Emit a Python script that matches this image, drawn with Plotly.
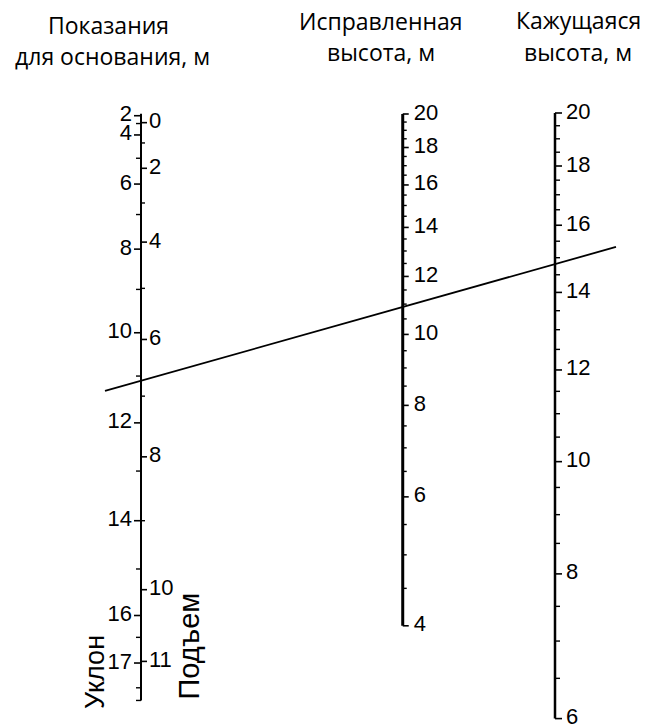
import math
import plotly.graph_objects as go

# ---------------- data ----------------
# Left scale, left side: "Уклон" readings and the correction factor (corrected / apparent height)
UKLON_LABELS = [2, 4, 6, 8, 10, 12, 14, 16, 17]
UKLON_FACTOR = [1.000, 0.978, 0.924, 0.857, 0.778, 0.701, 0.626, 0.561, 0.531]
UKLON_MINOR = [3, 5, 7, 9, 11, 13, 15, 16.5, 17.5, 17.75]
UKLON_MINOR_FACTOR = [0.991, 0.952, 0.892, 0.818, 0.740, 0.663, 0.592, 0.547, 0.516, 0.5085]

# Left scale, right side: "Подъем" readings and their correction factors
PODEM_LABELS = [0, 2, 4, 6, 8, 10, 11]
PODEM_FACTOR = [0.992, 0.941, 0.864, 0.772, 0.674, 0.578, 0.532]
PODEM_MINOR = [1, 3, 5, 7, 9]
PODEM_MINOR_FACTOR = [0.969, 0.904, 0.819, 0.723, 0.626]

# Middle scale: corrected height, m (logarithmic)
CORR_LABELS = [4, 6, 8, 10, 12, 14, 16, 18, 20]
CORR_MINOR = [4.5, 5, 5.5, 6.5, 7, 7.5, 8.5, 9, 9.5, 10.5, 11, 11.5, 12.5, 13, 13.5,
              14.5, 15, 15.5, 16.5, 17, 17.5, 18.5, 19, 19.5]

# Right scale: apparent height, m (logarithmic)
APP_LABELS = [6, 8, 10, 12, 14, 16, 18, 20]
APP_MINOR = [6.5, 7, 7.5, 8.5, 9, 9.5, 10.5, 11, 11.5, 12.5, 13, 13.5,
             14.5, 15, 15.5, 16.5, 17, 17.5, 18.5, 19, 19.5]

# Example isopleth
ISO_APPARENT = 14.81
ISO_CORRECTED = 10.90

# ---------------- nomogram geometry ----------------
W, H = 646, 724
PX_PER_LN_MID = 318.0
PX_PER_LN_RIGHT = 503.0
K = PX_PER_LN_RIGHT / PX_PER_LN_MID
T = 1.0 / K
LN20 = math.log(20)
D = 1.0 / PX_PER_LN_MID
C = LN20 * (1 - K) + D

XL, XR = 141.0, 555.0
XM = XL + T * (XR - XL)


def y_mid(v):
    return math.log(v)


def y_right(v):
    return LN20 + K * (math.log(v) - LN20) + D


def y_left(g):
    return (math.log(g) - T * C) / (1 - T)


Y_TOP = LN20 + 114 / PX_PER_LN_MID
Y_BOT = LN20 - (H - 114) / PX_PER_LN_MID


def px_to_paper(p):
    return 1 - p / H


fig = go.Figure()


def segments(x0, dx, ys):
    xs, yy = [], []
    for y in ys:
        xs += [x0, x0 + dx, None]
        yy += [y, y, None]
    return xs, yy


def add_lines(xs, ys, width):
    fig.add_trace(go.Scatter(x=xs, y=ys, mode="lines",
                             line=dict(color="black", width=width),
                             hoverinfo="skip", showlegend=False))


# axis lines
left_ys = [y_left(g) for g in UKLON_FACTOR + UKLON_MINOR_FACTOR + PODEM_FACTOR + PODEM_MINOR_FACTOR]
add_lines([XL, XL], [max(left_ys) + 0.006, min(left_ys)], 2)
add_lines([XM, XM], [y_mid(max(CORR_LABELS)), y_mid(min(CORR_LABELS))], 3)
add_lines([XR, XR], [y_right(max(APP_LABELS)), y_right(min(APP_LABELS))], 2.5)

# ticks
xs, ys = segments(XL, -7, [y_left(g) for g in UKLON_FACTOR]); add_lines(xs, ys, 1.6)
xs, ys = segments(XL, -5, [y_left(g) for g in UKLON_MINOR_FACTOR]); add_lines(xs, ys, 1.4)
xs, ys = segments(XL, 6, [y_left(g) for g in PODEM_FACTOR]); add_lines(xs, ys, 1.6)
xs, ys = segments(XL, 4, [y_left(g) for g in PODEM_MINOR_FACTOR]); add_lines(xs, ys, 1.4)
xs, ys = segments(XM, 6, [y_mid(v) for v in CORR_LABELS]); add_lines(xs, ys, 1.6)
xs, ys = segments(XM, 4, [y_mid(v) for v in CORR_MINOR]); add_lines(xs, ys, 1.4)
xs, ys = segments(XR, 7, [y_right(v) for v in APP_LABELS]); add_lines(xs, ys, 1.6)
xs, ys = segments(XR, 5, [y_right(v) for v in APP_MINOR]); add_lines(xs, ys, 1.4)

# isopleth
ya = y_mid(ISO_CORRECTED)
yb = y_right(ISO_APPARENT)
slope = (yb - ya) / (XR - XM)
X_ISO0, X_ISO1 = 105.0, 616.0
add_lines([X_ISO0, X_ISO1], [ya + slope * (X_ISO0 - XM), ya + slope * (X_ISO1 - XM)], 1.8)

NUM_FONT = dict(family="Liberation Sans, Arial, sans-serif", size=22, color="black")


def add_labels(x, vals, ys, pos):
    fig.add_trace(go.Scatter(x=[x] * len(vals), y=ys, mode="text",
                             text=[str(v) for v in vals], textposition=pos,
                             textfont=NUM_FONT, hoverinfo="skip", showlegend=False))


uk_y = [y_left(g) for g in UKLON_FACTOR]
add_labels(XL - 9, UKLON_LABELS, uk_y, "middle left")
add_labels(XL + 8, PODEM_LABELS, [y_left(g) for g in PODEM_FACTOR], "middle right")
add_labels(XM + 11, CORR_LABELS, [y_mid(v) for v in CORR_LABELS], "middle right")
add_labels(XR + 11, APP_LABELS, [y_right(v) for v in APP_LABELS], "middle right")

TITLE_FONT = dict(family="Open Sans, Noto Sans, sans-serif", size=23, color="black")
titles = [
    ("Показания", 108, 25),
    ("для основания, м", 112, 56),
    ("Исправленная", 381, 21),
    ("высота, м", 381, 52),
    ("Кажущаяся", 578, 20),
    ("высота, м", 578, 52),
]
for txt, x, p in titles:
    fig.add_annotation(text=txt, x=x, y=px_to_paper(p), xref="x", yref="paper",
                       showarrow=False, font=TITLE_FONT, xanchor="center", yanchor="middle")

ROT_FONT = dict(family="Liberation Sans, Arial, sans-serif", size=27, color="black")
fig.add_annotation(text="Уклон", x=95, y=px_to_paper(711), xref="x", yref="paper",
                   showarrow=False, font=ROT_FONT, textangle=-90)
fig.add_annotation(text="Подъем", x=188, y=px_to_paper(702), xref="x", yref="paper",
                   showarrow=False, font=dict(ROT_FONT, size=29), textangle=-90)

fig.update_layout(
    width=W, height=H,
    margin=dict(l=0, r=0, t=0, b=0),
    paper_bgcolor="white", plot_bgcolor="white",
    xaxis=dict(range=[0, W], visible=False, fixedrange=True),
    yaxis=dict(range=[Y_BOT, Y_TOP], visible=False, fixedrange=True),
    showlegend=False,
)

fig.write_html("out.html", config={"displayModeBar": False},
               post_script="document.body.style.margin='0';")
